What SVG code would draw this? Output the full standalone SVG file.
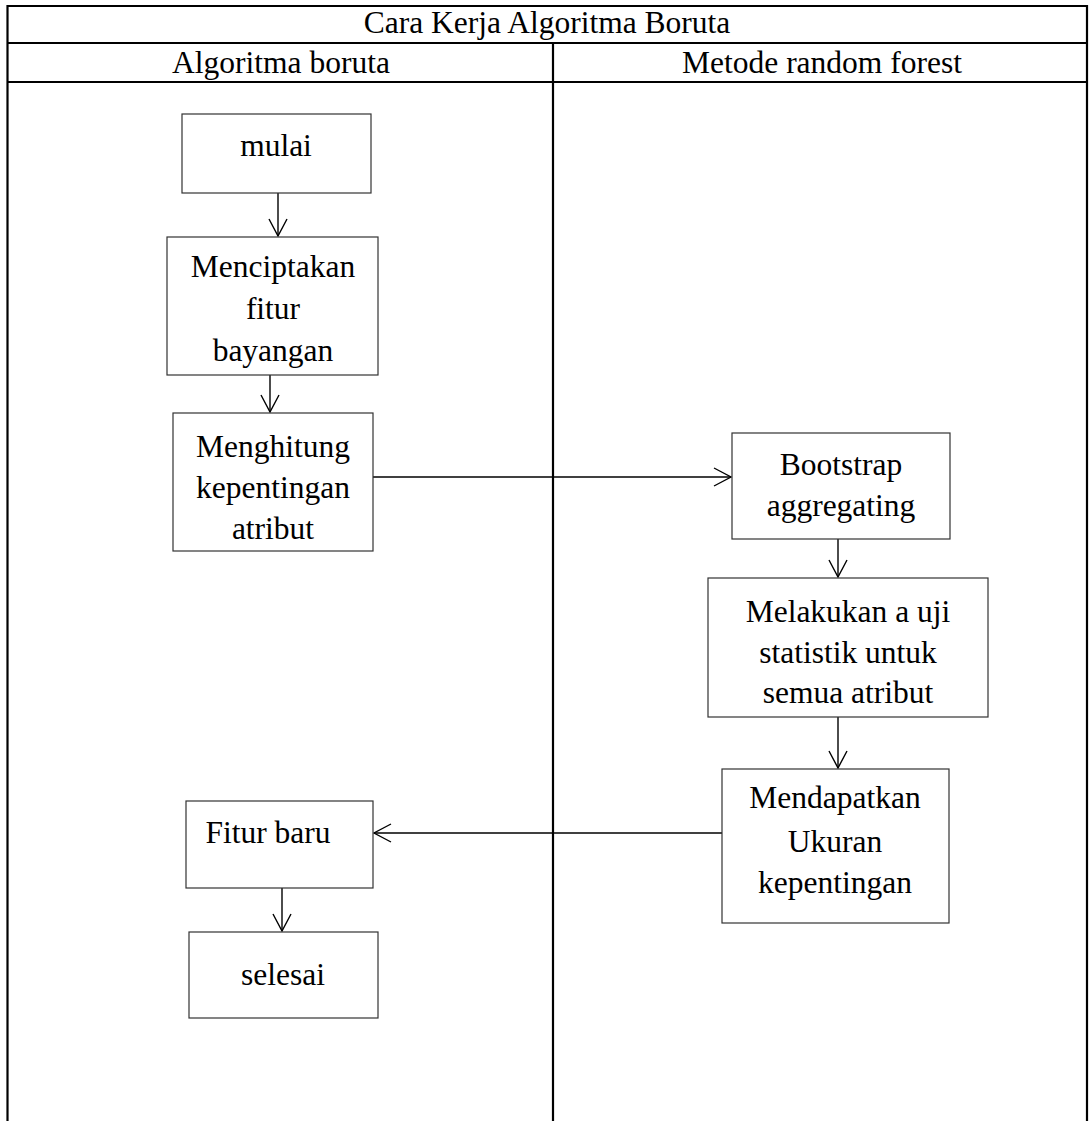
<svg xmlns="http://www.w3.org/2000/svg" width="1089" height="1121" viewBox="0 0 1089 1121">
<defs>
<style>
.t{font-family:"Liberation Serif","Times New Roman",serif;font-size:31.5px;fill:#000;text-anchor:middle}
.grid{stroke:#000;stroke-width:2.2;fill:none}
.box{stroke:#333;stroke-width:1.2;fill:#fff}
.con{stroke:#000;stroke-width:1.4;fill:none}
</style>
<marker id="ah" markerUnits="userSpaceOnUse" markerWidth="24" markerHeight="24" viewBox="-20 -12 24 24" refX="0" refY="0" orient="auto">
<path d="M-17,-9 L0,0 L-17,9" fill="none" stroke="#000" stroke-width="1.4"/>
</marker>
</defs>
<rect width="1089" height="1121" fill="#fff"/>
<g id="table">
<path class="grid" d="M7.5,1121 V6 H1087 V1121 M7.5,43 H1087 M7.5,82 H1087 M553,43 V1121"/>
<text class="t" x="547" y="33">Cara Kerja Algoritma Boruta</text>
<text class="t" x="281" y="73">Algoritma boruta</text>
<text class="t" x="822" y="73">Metode random forest</text>
</g>
<g id="connectors">
<line class="con" x1="278" y1="193" x2="278" y2="236" marker-end="url(#ah)"/>
<line class="con" x1="270" y1="375" x2="270" y2="412" marker-end="url(#ah)"/>
<line class="con" x1="373" y1="477" x2="731" y2="477" marker-end="url(#ah)"/>
<line class="con" x1="838" y1="539" x2="838" y2="577" marker-end="url(#ah)"/>
<line class="con" x1="838" y1="717" x2="838" y2="768" marker-end="url(#ah)"/>
<line class="con" x1="722" y1="833" x2="374" y2="833" marker-end="url(#ah)"/>
<line class="con" x1="282" y1="888" x2="282" y2="931" marker-end="url(#ah)"/>
</g>
<g id="n-mulai">
<rect class="box" x="182" y="114" width="189" height="79"/>
<text class="t" x="276" y="156">mulai</text>
</g>
<g id="n-menciptakan">
<rect class="box" x="167" y="237" width="211" height="138"/>
<text class="t" x="273" y="277">Menciptakan</text>
<text class="t" x="273" y="319">fitur</text>
<text class="t" x="273" y="361">bayangan</text>
</g>
<g id="n-menghitung">
<rect class="box" x="173" y="413" width="200" height="138"/>
<text class="t" x="273" y="457">Menghitung</text>
<text class="t" x="273" y="498">kepentingan</text>
<text class="t" x="273" y="539">atribut</text>
</g>
<g id="n-bootstrap">
<rect class="box" x="732" y="433" width="218" height="106"/>
<text class="t" x="841" y="475">Bootstrap</text>
<text class="t" x="841" y="516">aggregating</text>
</g>
<g id="n-melakukan">
<rect class="box" x="708" y="578" width="280" height="139"/>
<text class="t" x="848" y="622">Melakukan a uji</text>
<text class="t" x="848" y="663">statistik untuk</text>
<text class="t" x="848" y="703">semua atribut</text>
</g>
<g id="n-mendapatkan">
<rect class="box" x="722" y="769" width="227" height="154"/>
<text class="t" x="835" y="808">Mendapatkan</text>
<text class="t" x="835" y="852">Ukuran</text>
<text class="t" x="835" y="893">kepentingan</text>
</g>
<g id="n-fiturbaru">
<rect class="box" x="186" y="801" width="187" height="87"/>
<text class="t" x="268" y="843">Fitur baru</text>
</g>
<g id="n-selesai">
<rect class="box" x="189" y="932" width="189" height="86"/>
<text class="t" x="283" y="985">selesai</text>
</g>
</svg>
